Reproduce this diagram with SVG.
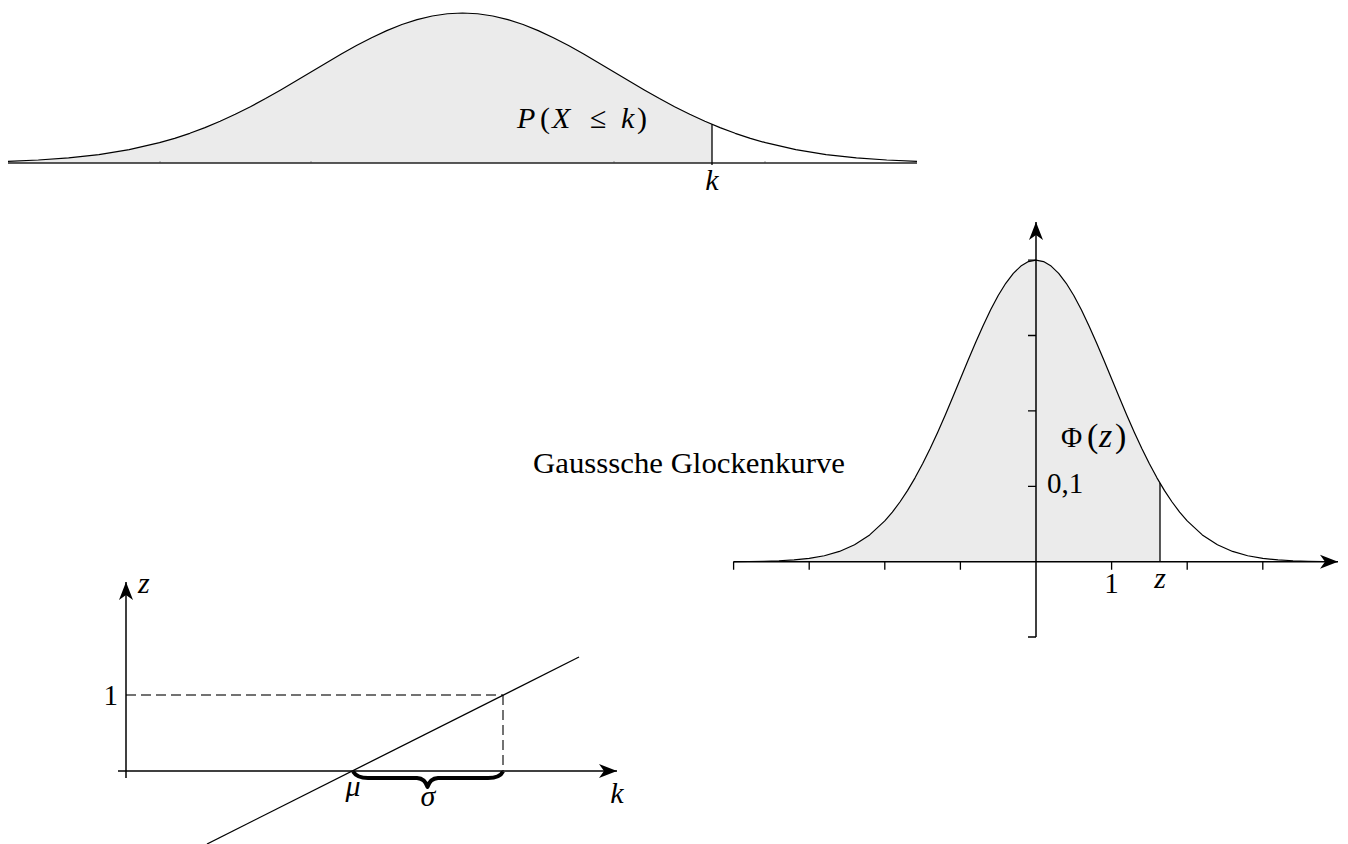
<svg xmlns="http://www.w3.org/2000/svg" width="1348" height="844" viewBox="0 0 1348 844">
<style>
.fill{fill:#ebebeb;stroke:none}
.curve{fill:none;stroke:#000;stroke-width:1.2;stroke-linejoin:round}
.axis{fill:none;stroke:#000;stroke-width:1.5}
.thin{fill:none;stroke:#000;stroke-width:1.3}
.dash{fill:none;stroke:#444;stroke-width:1.5;stroke-dasharray:10 5}
.math{font-family:"Liberation Serif","DejaVu Serif",serif;font-style:italic;font-size:30px;fill:#000}
.rm{font-family:"Liberation Serif","DejaVu Serif",serif;font-style:normal;font-size:29px;fill:#000}
</style>
<defs>
<marker id="arr" viewBox="-20 -8 22 16" refX="0" refY="0" markerWidth="22" markerHeight="16" orient="auto" markerUnits="userSpaceOnUse">
<path d="M0,0 L-18,-7 L-13,0 L-18,7 Z" fill="#000"/>
</marker>
</defs>
<rect width="1348" height="844" fill="#fff"/>

<g id="top-plot">
<path class="fill" d="M8,163 L8,161.33 L38.3,160.02 L68.6,157.89 L98.9,154.58 L129.2,149.66 L159.5,142.7 L174.65,138.33 L189.8,133.31 L204.95,127.64 L220.1,121.29 L235.25,114.3 L250.4,106.7 L265.55,98.57 L280.7,89.99 L295.85,81.09 L311,72.02 L326.15,62.95 L341.3,54.08 L356.45,45.59 L371.6,37.71 L386.75,30.62 L401.9,24.53 L417.05,19.6 L432.2,15.97 L447.35,13.75 L462.5,13 L477.65,13.75 L492.8,15.97 L507.95,19.6 L523.1,24.53 L538.25,30.62 L553.4,37.71 L568.55,45.59 L583.7,54.08 L598.85,62.95 L614,72.02 L629.15,81.09 L644.3,89.99 L659.45,98.57 L674.6,106.7 L689.75,114.3 L704.9,121.29 L712,124.34 L712,163 Z"/>
<path class="curve" d="M8,161.33 L38.3,160.02 L68.6,157.89 L98.9,154.58 L129.2,149.66 L159.5,142.7 L174.65,138.33 L189.8,133.31 L204.95,127.64 L220.1,121.29 L235.25,114.3 L250.4,106.7 L265.55,98.57 L280.7,89.99 L295.85,81.09 L311,72.02 L326.15,62.95 L341.3,54.08 L356.45,45.59 L371.6,37.71 L386.75,30.62 L401.9,24.53 L417.05,19.6 L432.2,15.97 L447.35,13.75 L462.5,13 L477.65,13.75 L492.8,15.97 L507.95,19.6 L523.1,24.53 L538.25,30.62 L553.4,37.71 L568.55,45.59 L583.7,54.08 L598.85,62.95 L614,72.02 L629.15,81.09 L644.3,89.99 L659.45,98.57 L674.6,106.7 L689.75,114.3 L704.9,121.29 L720.05,127.64 L735.2,133.31 L750.35,138.33 L765.5,142.7 L795.8,149.66 L826.1,154.58 L856.4,157.89 L886.7,160.02 L917,161.33"/>
<line x1="8" y1="163" x2="917" y2="163" stroke="#222" stroke-width="1.6"/>
<path d="M160,163 v-1.5 M311,163 v-1.5 M614,163 v-1.5 M765,163 v-1.5" stroke="#444" stroke-width="1"/>
<line class="thin" x1="712" y1="124.34" x2="712" y2="165"/>
<text class="math" y="128"><tspan x="517">P</tspan><tspan x="540" font-style="normal">(</tspan><tspan x="552">X</tspan><tspan x="590" font-style="normal">≤</tspan><tspan x="621">k</tspan><tspan x="637" font-style="normal">)</tspan></text>
<text class="math" x="712" y="190" text-anchor="middle">k</text>
</g>

<g id="gauss-plot">
<path class="fill" d="M733.6,561.7 L733.6,561.6 L748.72,561.48 L763.84,561.24 L778.96,560.77 L794.08,559.9 L809.2,558.35 L824.32,555.72 L839.44,551.43 L854.56,544.77 L869.68,534.88 L884.8,520.88 L892.36,512.1 L899.92,502.01 L907.48,490.6 L915.04,477.84 L922.6,463.79 L930.16,448.51 L937.72,432.15 L945.28,414.9 L952.84,397.01 L960.4,378.77 L967.96,360.54 L975.52,342.69 L983.08,325.64 L990.64,309.78 L998.2,295.54 L1005.76,283.29 L1013.32,273.37 L1020.88,266.07 L1028.44,261.6 L1036,260.1 L1043.56,261.6 L1051.12,266.07 L1058.68,273.37 L1066.24,283.29 L1073.8,295.54 L1081.36,309.78 L1088.92,325.64 L1096.48,342.69 L1104.04,360.54 L1111.6,378.77 L1119.16,397.01 L1126.72,414.9 L1134.28,432.15 L1141.84,448.51 L1149.4,463.79 L1156.96,477.84 L1160,483 L1160,561.7 Z"/>
<path class="curve" d="M733.6,561.6 L748.72,561.48 L763.84,561.24 L778.96,560.77 L794.08,559.9 L809.2,558.35 L824.32,555.72 L839.44,551.43 L854.56,544.77 L869.68,534.88 L884.8,520.88 L892.36,512.1 L899.92,502.01 L907.48,490.6 L915.04,477.84 L922.6,463.79 L930.16,448.51 L937.72,432.15 L945.28,414.9 L952.84,397.01 L960.4,378.77 L967.96,360.54 L975.52,342.69 L983.08,325.64 L990.64,309.78 L998.2,295.54 L1005.76,283.29 L1013.32,273.37 L1020.88,266.07 L1028.44,261.6 L1036,260.1 L1043.56,261.6 L1051.12,266.07 L1058.68,273.37 L1066.24,283.29 L1073.8,295.54 L1081.36,309.78 L1088.92,325.64 L1096.48,342.69 L1104.04,360.54 L1111.6,378.77 L1119.16,397.01 L1126.72,414.9 L1134.28,432.15 L1141.84,448.51 L1149.4,463.79 L1156.96,477.84 L1164.52,490.6 L1172.08,502.01 L1179.64,512.1 L1187.2,520.88 L1202.32,534.88 L1217.44,544.77 L1232.56,551.43 L1247.68,555.72 L1262.8,558.35 L1277.92,559.9 L1293.04,560.77 L1308.16,561.24 L1323.28,561.48"/>
<line class="thin" x1="1160" y1="483" x2="1160" y2="561.7"/>
<path class="thin" d="M733.6,561.7 v8 M809.2,561.7 v8 M884.8,561.7 v8 M960.4,561.7 v8 M1111.6,561.7 v8 M1187.2,561.7 v8 M1262.8,561.7 v8"/>
<path class="thin" d="M1036,486.3 h-8 M1036,410.9 h-8 M1036,335.5 h-8 M1036,260.1 h-8 M1036,637 h-8"/>
<line class="axis" x1="733.6" y1="561.7" x2="1338" y2="561.7" marker-end="url(#arr)"/>
<line class="axis" x1="1036" y1="637" x2="1036" y2="222" marker-end="url(#arr)"/>
<text class="rm" x="1047" y="493">0,1</text>
<text class="rm" x="1111.6" y="593" text-anchor="middle">1</text>
<text class="math" x="1160" y="588" text-anchor="middle">z</text>
<text class="rm" y="447" font-size="36"><tspan x="1061">Φ</tspan><tspan x="1087" font-size="34">(</tspan><tspan x="1099" font-style="italic" font-size="34">z</tspan><tspan x="1115" font-size="34">)</tspan></text>
</g>

<g id="caption">
<text class="rm" x="533" y="473" font-size="30" textLength="312" lengthAdjust="spacingAndGlyphs">Gausssche Glockenkurve</text>
</g>

<g id="z-plot">
<line class="dash" x1="126" y1="695" x2="503" y2="695"/>
<line class="dash" x1="503" y1="695" x2="503" y2="771"/>
<line class="axis" x1="118" y1="771" x2="617" y2="771" marker-end="url(#arr)"/>
<line class="axis" x1="126" y1="778" x2="126" y2="582" marker-end="url(#arr)"/>
<line class="thin" x1="207" y1="844" x2="579" y2="657"/>
<path d="M353,771.5 Q357,778 368,778 L417,778 Q425,778.5 427.5,787 Q430,778.5 438,778 L488,778 Q500,778 503,771.5" fill="none" stroke="#000" stroke-width="4" stroke-linejoin="round"/>
<text class="math" x="138" y="593">z</text>
<text class="rm" x="118" y="705" text-anchor="end">1</text>
<text class="math" x="353" y="796" text-anchor="middle">μ</text>
<text class="math" x="428" y="806" text-anchor="middle">σ</text>
<text class="math" x="617" y="803" text-anchor="middle">k</text>
</g>
</svg>
